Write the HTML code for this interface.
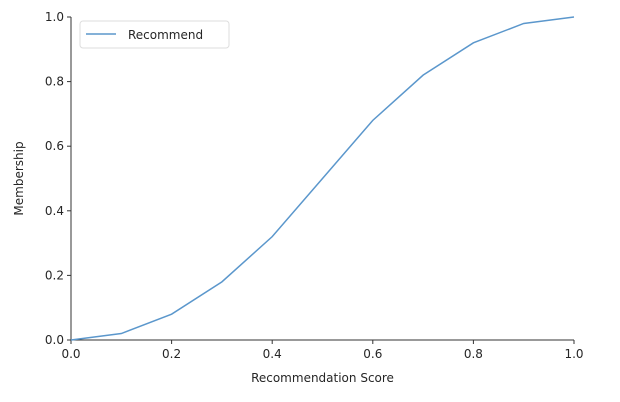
<!DOCTYPE html>
<html><head><meta charset="utf-8"><style>
body{margin:0;background:#fff;}
svg{display:block;font-family:"DejaVu Sans","Liberation Sans",sans-serif;}
</style></head><body>
<svg id="chart" width="620" height="402"></svg>
<script>
const xValues=[0,0.1,0.2,0.3,0.4,0.5,0.6,0.7,0.8,0.9,1.0];
const recommendValues=[0,0.02,0.08,0.18,0.32,0.5,0.68,0.82,0.92,0.98,1.0];
const xTicks=[0,0.2,0.4,0.6,0.8,1.0];
const yTicks=[0,0.2,0.4,0.6,0.8,1.0];
const X0=71,X1=574,Y0=340,Y1=17;
const sx=v=>X0+(X1-X0)*v, sy=v=>Y0-(Y0-Y1)*v;
const svg=document.getElementById('chart');
const NS='http://www.w3.org/2000/svg';
function mk(t,a,p){const e=document.createElementNS(NS,t);for(const k in a)e.setAttribute(k,a[k]);(p||svg).appendChild(e);return e;}
let e;
e=mk('line',{x1:X0,y1:Y0,x2:X1,y2:Y0,stroke:'#333','stroke-width':1});


e=mk('line',{x1:X0,y1:Y0,x2:X0,y2:Y1,stroke:'#333','stroke-width':1});


xTicks.forEach(v=>{
 mk('line',{x1:sx(v),y1:Y0,x2:sx(v),y2:Y0+4,stroke:'#333'});
 e=mk('text',{x:sx(v),y:Y0+18,'text-anchor':'middle','font-size':12,fill:'#262626'});
 e.textContent=v.toFixed(1);
 
 
});
yTicks.forEach(v=>{
 mk('line',{x1:X0-4,y1:sy(v),x2:X0,y2:sy(v),stroke:'#333'});
 e=mk('text',{x:X0-7,y:sy(v)+4,'text-anchor':'end','font-size':12,fill:'#262626'});
 e.textContent=v.toFixed(1);
 
 
});
e=mk('text',{x:(X0+X1)/2,y:382,'text-anchor':'middle','font-size':12,fill:'#262626'});
e.textContent='Recommendation Score';


e=mk('text',{x:23,y:(Y0+Y1)/2,'text-anchor':'middle','font-size':12,fill:'#262626',transform:`rotate(-90 23 ${(Y0+Y1)/2})`});
e.textContent='Membership';


e=mk('polyline',{points:xValues.map((x,i)=>sx(x)+','+sy(recommendValues[i])).join(' '),fill:'none',stroke:'#5b97cc','stroke-width':1.5});


const g=mk('g',{});


mk('rect',{x:80,y:21,width:149,height:27,rx:3,fill:'#fff',stroke:'#ddd'},g);
mk('line',{x1:86,y1:34,x2:116,y2:34,stroke:'#5b97cc','stroke-width':1.5},g);
e=mk('text',{x:128,y:39,'font-size':12,fill:'#262626'},g);
e.textContent='Recommend';


</script>
</body></html>
